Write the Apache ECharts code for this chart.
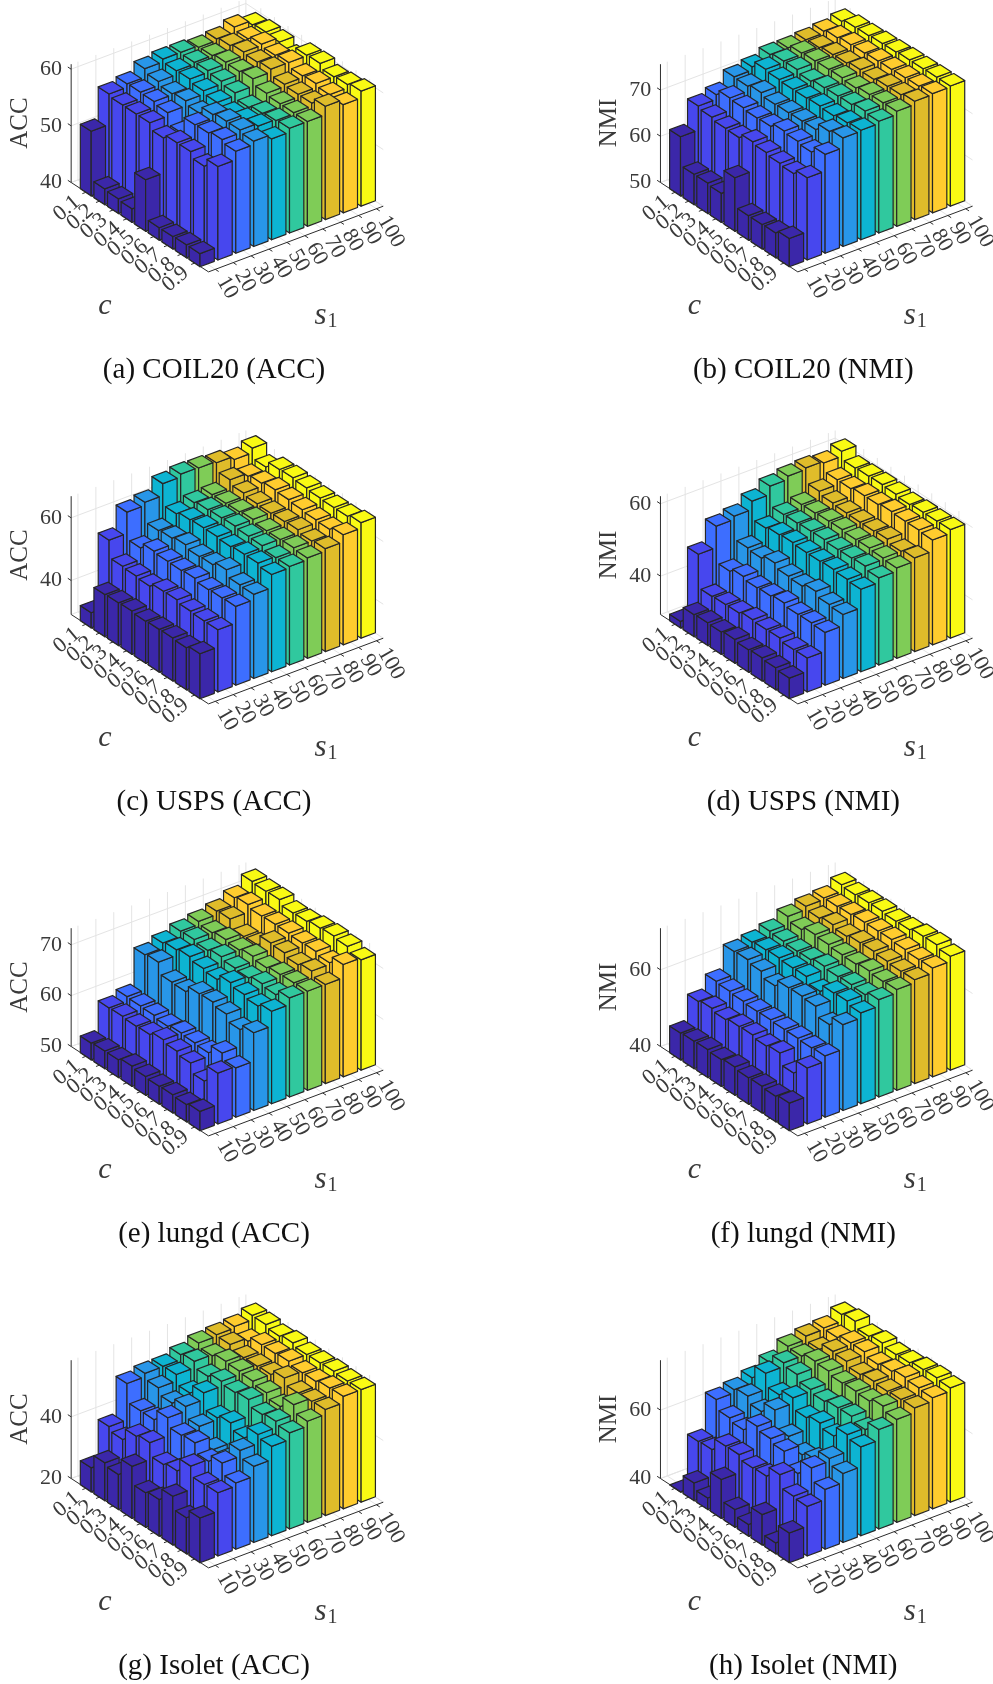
<!DOCTYPE html>
<html><head><meta charset="utf-8">
<style>html,body{margin:0;padding:0;background:#fff}#c{width:993px;height:1684px}</style>
<script src="https://cdn.jsdelivr.net/npm/echarts@6/dist/echarts.min.js"></script>
</head><body><div id="c"></div>
<script>
const sLabels=['10','20','30','40','50','60','70','80','90','100'];
const cLabels=['0.1','0.2','0.3','0.4','0.5','0.6','0.7','0.8','0.9'];
const sColors=['#3b27a9','#4747ee','#3d6eff','#2896e8','#0db4d2','#30c89e','#7fcc57','#dfbc2a','#ffcc2e','#f9fa14'];
// each table: one line per s1 value, entries run over c = 0.1 ... 0.9
const coilAcc=[
[51.4,42.8,42.6,42.4,49.1,42.2,42.2,42.3,42.3],
[56.8,56.4,56.4,56.4,55.3,56,56,55,56.5],
[57.4,57.5,57.4,57,55,58,58.1,58.5,58],
[58.9,58.2,57.6,57.9,57.3,58.6,59,59,58.6],
[59.4,58.9,59,58.5,58,57.5,58,58.5,57.8],
[59.4,59.2,59.3,59,58.5,57.5,58,58.3,58.5],
[59.1,59.2,59.6,59.5,59.8,58.8,58.5,58.5,58.5],
[59.4,59.8,60.2,60,60.3,59.2,59,59,60],
[60.3,59.8,60.4,60,60.3,59.5,59.7,59.3,59.1],
[59.5,59.8,59.6,58.5,60.4,60.5,59.7,59.9,60.3]];
const coilNmi=[
[62.8,56.6,56.6,56.3,61.6,55.3,55.3,55.4,56.1],
[68,67.5,67,66.9,67.9,67.5,67.1,66.8,67.8],
[69,70.2,70,69.7,69.8,70.7,70.4,70,71.4],
[71.4,71.3,71.8,71.2,71.3,71.4,71.5,73,73.5],
[72.1,73.5,73.2,73,73,73.2,73,73.4,73.7],
[73.3,73.8,73.9,73.3,73.8,73.9,74,74.5,74.2],
[73.3,74.1,74.3,74.4,74.5,74.2,74.7,74.8,74.9],
[73.6,73.8,74.2,74.3,74.8,74.6,75,75.1,75.6],
[74,74.5,74.9,75,75.2,75.3,75.4,75.5,75.8],
[74.7,75.3,75.4,75.6,75.7,75.9,75.9,76,76]];
const uspsAcc=[
[34,42.6,42.8,43,42.6,42.8,42.9,42.6,43.5],
[55,49.5,49.2,48.8,50,50.1,49.3,49,49],
[61.8,53.2,55,54.6,54.5,54.8,54,54.2,54.3],
[62.8,56.6,57,57.7,56.8,57,58.2,56.2,56],
[66.6,59.8,60.7,61,61,60.6,61,61,60.2],
[67.5,61.2,61.8,62,62.2,61.8,61.6,60.6,60.6],
[67.3,61.6,61.7,61.8,62.2,61.4,61.4,61.6,61.2],
[66.8,64.2,62.8,62.2,62,62.2,62.4,61.6,62],
[65.7,63.2,63.8,64.5,64.2,63.8,63.4,63.2,64.3],
[67.2,64,66,66.2,65.8,65.4,65.2,65.2,66]];
const uspsNmi=[
[31.2,35.5,35.7,35.6,36,35.6,35.8,35.5,35.1],
[47.9,38.7,38.9,39,39.6,39.3,39.4,38.7,38.8],
[53.8,43.8,44.8,44.1,44.3,44.8,44.1,44.2,44],
[54.7,48.4,48,49.1,47.9,47.6,48.6,47.4,47.1],
[57,52,52.6,52.9,52.6,52.6,52.8,52.5,52.2],
[59.3,53.9,54,54.2,54.3,54,54.1,54.3,53.5],
[60.2,54.8,54.9,55.1,55.2,54.9,55,54.7,54.4],
[60.6,56.6,55.8,55.5,55.4,55.4,55.6,54.7,55.3],
[60.1,57.9,57.9,58.4,58.4,58.9,58.7,58.7,58.4],
[61.5,59.3,59.5,59.6,59.4,59,59.3,59.3,59.4]];
const lungAcc=[
[53.3,53.5,53.5,54,53.7,53.5,53.6,53.4,53.8],
[58.9,59,58.8,58.9,59.6,59.1,58.5,56.7,60],
[59.8,59.7,59.6,59.2,59.6,59.4,59.2,60.9,59.7],
[66.7,67,64.8,64.7,66,66.1,65.5,64.2,65.3],
[67.7,68.1,68.5,67.9,67.5,68.6,68,67.5,68.2],
[68.7,68.8,68.4,68.9,68.4,68.2,68.8,68.4,69.5],
[69.3,68.8,69.2,68.9,69.4,68.9,69.3,69.4,69.5],
[70,70.2,68.5,68.6,70.7,70.5,69.9,70.4,69.5],
[71.3,71.7,71.2,71.3,71.3,71.1,71.2,70.7,72.1],
[73.2,73,73.1,72.2,72.3,72.7,72.9,72.6,71.7]];
const lungNmi=[
[47,47.2,47.3,47,47.4,46.9,47,46.7,47.2],
[53.5,54,53.4,53.9,54,53.4,53.9,51,54.6],
[57,56.7,56.4,56.1,56.2,56,56,55.8,56],
[63,63.2,62.5,61,62.8,62.9,62.6,60.1,62.4],
[63.7,64,64.2,63.9,64,62.4,64.3,64.5,63.7],
[64.8,64.5,64.2,64.3,64.9,64.5,64.7,64.4,65.4],
[66.9,65.8,66.8,66.5,66.1,66,66.5,66.1,66.3],
[67.8,67,67.6,66.9,67.5,67.6,67.3,67,67.1],
[68.2,68.3,68.5,68.8,68.8,68.9,68.6,68.3,68.4],
[69.9,69.6,69.8,69.9,69.6,69.7,70.3,70.4,69.7]];
const isoletAcc=[
[27.8,32.3,31.4,36.9,31.2,31.9,35.8,31.7,34.5],
[39,37.7,41.6,42.4,38.2,39,43.4,40.3,40.5],
[50.8,44.8,44.8,48.3,45.5,45.9,42.8,45.1,41.5],
[51.9,50.1,48,49.8,46.2,41.5,41,47,44.7],
[52,52.2,49.1,52,46.8,48,46,50,49],
[53.6,54.3,52.3,53.6,52.8,53.4,51.4,52.1,51.2],
[55.2,53.9,55,54.7,54.3,53.4,51.8,55.3,52.8],
[55.7,55.4,54,54.1,54.3,56,54,54.2,54.4],
[56.2,54.3,56,56,56.4,55.5,55.6,56.3,56.5],
[57.6,57.5,56.6,57.3,56.4,56.5,56.7,56.4,56.5]];
const isoletNmi=[
[40,45.2,43.4,51.4,45.2,43.4,48.9,43.2,48.7],
[52.8,53,56.6,56.7,55.4,55.6,58.6,54.9,54.5],
[63.1,60.3,59.4,63,62,60.9,57,61.2,57.5],
[64,64.7,62.8,65.8,60.7,57.9,59,62,60.2],
[65.5,69.4,65.7,67.4,64.2,65.2,64,67,66],
[68,70.5,69.7,67.9,67,67.7,67.8,66.5,69.1],
[70.8,70.5,71.6,71.3,70.4,70.6,70.3,71.4,70.1],
[71.8,70.5,72.5,72.2,70.9,71.5,71.2,71.4,71.5],
[72.2,72,73,73,71.9,72.5,73.3,72.8,72.5],
[74.2,74.8,73,73.6,72.8,73,73.6,73.8,73.4]];
const tables=[coilAcc,coilNmi,uspsAcc,uspsNmi,lungAcc,lungNmi,isoletAcc,isoletNmi];
const captions=['(a) COIL20 (ACC)','(b) COIL20 (NMI)','(c) USPS (ACC)','(d) USPS (NMI)','(e) lungd (ACC)','(f) lungd (NMI)','(g) Isolet (ACC)','(h) Isolet (NMI)'];
const zLabels=['ACC','NMI','ACC','NMI','ACC','NMI','ACC','NMI'];
const zMins=[40,50,29.15,29.4,50,40,20,40];
const zMaxs=[60.88,75.6,66.9,62.1,73.27,70.86,58.37,74.6];
const zTicks=[[40,50,60],[50,60,70],[40,60],[40,60],[50,60,70],[40,60],[20,40],[40,60]];
const colLeft=[0,589.3];
const rowTop=[0,432,864,1296];
const PW=400,PH=388;
const iMin=-1.1,iMax=9,jMin=-0.38,jMax=9.38,half=0.4,wallH=118.3;
function proj(i,j,z,p){
  return [92.92+13.6*i+17.9*j, 189.67+8.85*i-6.73*j-(z-zMins[p])*wallH/(zMaxs[p]-zMins[p])];
}
const grids=[],xAxes=[],yAxes=[],series=[];
const FONT='"Liberation Serif","Times New Roman",serif';
function line(api,a,b,color,w){
  const s=api.coord(a),e=api.coord(b);
  return {type:'line',shape:{x1:s[0],y1:s[1],x2:e[0],y2:e[1]},style:{stroke:color,lineWidth:w,fill:null}};
}
function textEl(api,pt,text,o){
  const c=api.coord(pt);
  return {type:'text',x:c[0],y:c[1],rotation:(o.rot||0)*Math.PI/180,
    style:Object.assign({text:text,x:0,y:0,fill:o.fill||'#3a3a3a',font:(o.style||'')+' '+o.size+'px '+FONT,
    align:o.align||'center',verticalAlign:'middle'},o.extra||{})};
}
tables.forEach(function(tbl,p){
  const col=p%2,row=(p-col)/2;
  grids.push({left:colLeft[col],top:rowTop[row],width:PW,height:PH,containLabel:false,show:false});
  xAxes.push({type:'value',gridIndex:p,min:0,max:PW,show:false});
  yAxes.push({type:'value',gridIndex:p,min:0,max:PH,inverse:true,show:false});
  const zMin=zMins[p],zMax=zMaxs[p],ticks=zTicks[p];
  // walls and floor grid
  series.push({type:'custom',xAxisIndex:p,yAxisIndex:p,silent:true,clip:false,z:1,data:[[0]],
    renderItem:function(params,api){
      const ch=[],G='#e4e4e4';
      sLabels.forEach(function(_,j){
        ch.push(line(api,proj(iMin,j,zMin,p),proj(iMin,j,zMax,p),G,1));
        ch.push(line(api,proj(iMin,j,zMin,p),proj(iMax,j,zMin,p),G,1));
      });
      cLabels.forEach(function(_,i){
        ch.push(line(api,proj(i,jMax,zMin,p),proj(i,jMax,zMax,p),G,1));
        ch.push(line(api,proj(i,jMin,zMin,p),proj(i,jMax,zMin,p),G,1));
      });
      ch.push(line(api,proj(iMin,jMax,zMin,p),proj(iMin,jMax,zMax,p),G,1));
      ch.push(line(api,proj(iMin,jMax,zMin,p),proj(iMax,jMax,zMin,p),G,1));
      ch.push(line(api,proj(iMin,jMin,zMin,p),proj(iMin,jMax,zMin,p),G,1));
      ticks.forEach(function(z){
        ch.push(line(api,proj(iMin,jMin,z,p),proj(iMin,jMax,z,p),G,1));
        ch.push(line(api,proj(iMin,jMax,z,p),proj(iMax,jMax,z,p),G,1));
      });
      return {type:'group',children:ch};
    }});
  // bars, far to near
  const bars=[];
  tbl.forEach(function(vals,j){vals.forEach(function(v,i){bars.push([j,i,v]);});});
  bars.sort(function(a,b){return (a[1]-a[0])-(b[1]-b[0]);});
  series.push({type:'custom',xAxisIndex:p,yAxisIndex:p,silent:true,clip:false,z:2,data:bars,
    encode:{x:0,y:1},
    renderItem:function(params,api){
      const j=api.value(0),i=api.value(1),v=api.value(2),c=sColors[j];
      const P=function(a,b,z){return api.coord(proj(a,b,z,p));};
      const L0=P(i-half,j-half,zMin),F0=P(i+half,j-half,zMin),R0=P(i+half,j+half,zMin);
      const L=P(i-half,j-half,v),F=P(i+half,j-half,v),R=P(i+half,j+half,v),B=P(i-half,j+half,v);
      const st={fill:c,stroke:'#262626',lineWidth:1.2,lineJoin:'round'};
      return {type:'group',children:[
        {type:'polygon',shape:{points:[L0,F0,F,L]},style:st},
        {type:'polygon',shape:{points:[F0,R0,R,F]},style:st},
        {type:'polygon',shape:{points:[L,F,R,B]},style:st}]};
    }});
  // axis lines, ticks and all text
  series.push({type:'custom',xAxisIndex:p,yAxisIndex:p,silent:true,clip:false,z:3,data:[[0]],
    renderItem:function(params,api){
      const ch=[],K='#2c2c2c',T=4;
      const add=function(pt,d){return [pt[0]+d[0],pt[1]+d[1]];};
      const dI=[-13.6/16.23*T,-8.85/16.23*T],dJ=[-17.9/19.12*T,6.73/19.12*T],dS=[13.6/16.23*T,8.85/16.23*T];
      ch.push(line(api,proj(iMin,jMin,zMin,p),proj(iMin,jMin,zMax,p),K,1));
      ch.push(line(api,proj(iMin,jMin,zMin,p),proj(iMax,jMin,zMin,p),K,1));
      ch.push(line(api,proj(iMax,jMin,zMin,p),proj(iMax,jMax,zMin,p),K,1));
      ticks.forEach(function(z){
        const a=proj(iMin,jMin,z,p);
        ch.push(line(api,a,add(a,dI),K,1));
        ch.push(textEl(api,[62,a[1]],String(z),{size:22,align:'right'}));
      });
      cLabels.forEach(function(t,i){
        const a=proj(i,jMin,zMin,p);
        ch.push(line(api,a,add(a,dJ),K,1));
        ch.push(textEl(api,[66.7+13.6*i,208.3+8.85*i],t,{size:22,rot:40}));
      });
      sLabels.forEach(function(t,j){
        const a=proj(iMax,j,zMin,p);
        ch.push(line(api,a,add(a,dS),K,1));
        ch.push(textEl(api,[221.7+17.9*j,278-6.73*j],t,{size:22,rot:-60,align:'left'}));
      });
      ch.push(textEl(api,[20,123],zLabels[p],{size:25,rot:90}));
      ch.push(textEl(api,[105,306],'c',{size:30,style:'italic'}));
      ch.push(textEl(api,[326,316],'{s|s}{n|1}',{size:30,extra:{rich:{
        s:{font:'italic 31px '+FONT,fill:'#3a3a3a'},
        n:{font:'20px '+FONT,fill:'#3a3a3a',verticalAlign:'bottom',padding:[12,0,0,1]}}}}));
      ch.push(textEl(api,[214,370],captions[p],{size:29,fill:'#111'}));
      return {type:'group',children:ch};
    }});
});
const chart=echarts.init(document.getElementById('c'),null,{renderer:'canvas',width:993,height:1684});
chart.setOption({animation:false,backgroundColor:'#fff',grid:grids,xAxis:xAxes,yAxis:yAxes,series:series});
</script></body></html>
